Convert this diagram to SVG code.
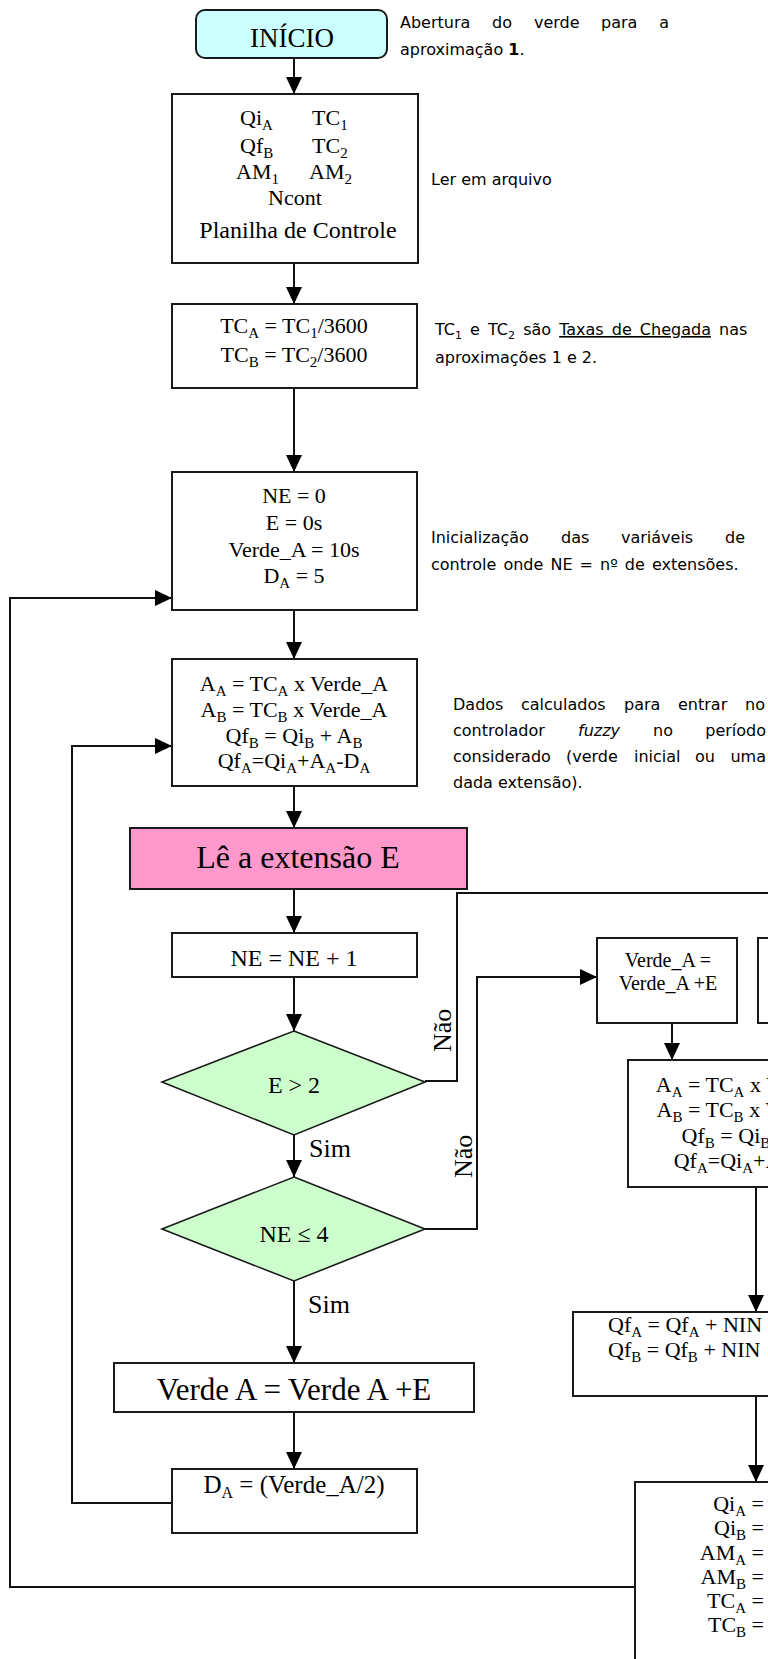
<svg xmlns="http://www.w3.org/2000/svg" width="768" height="1659" viewBox="0 0 768 1659">
  <style>
    .box { fill: #ffffff; stroke: #1a1a1a; stroke-width: 2; }
    .start { fill: #ccffff; stroke: #1a1a1a; stroke-width: 2; }
    .read { fill: #ff99cc; stroke: #1a1a1a; stroke-width: 2; }
    .dec { fill: #ccffcc; stroke: #1a1a1a; stroke-width: 1.6; }
    .t { font-family: "Liberation Serif", "Times New Roman", serif; font-size: 22px; fill: #000; text-anchor: middle; }
    .l { text-anchor: start; }
    .r { text-anchor: end; }
    .sb { font-size: 15px; }
    .note { font-family: "DejaVu Sans", "Noto Sans", sans-serif; font-size: 16px; fill: #000; }
    .note.r { text-anchor: end; }
    .conn { fill: none; stroke: #111; stroke-width: 2; }
    .arr { marker-end: url(#ah); }
  </style>
  <defs>
    <marker id="ah" markerWidth="17" markerHeight="16" refX="17" refY="8" orient="auto" markerUnits="userSpaceOnUse">
      <path d="M0,0 L17,8 L0,16 z" fill="#000"/>
    </marker>
  </defs>

  <rect width="768" height="1659" fill="#ffffff"/>

  <!-- connectors -->
  <g id="connectors">
    <path class="conn arr" d="M294,58 V94"/>
    <path class="conn arr" d="M294,263 V304"/>
    <path class="conn arr" d="M294,388 V472"/>
    <path class="conn arr" d="M294,610 V659"/>
    <path class="conn arr" d="M294,786 V828"/>
    <path class="conn arr" d="M294,889 V933"/>
    <path class="conn arr" d="M294,977 V1031"/>
    <path class="conn arr" d="M294,1135 V1177"/>
    <path class="conn arr" d="M294,1281 V1363"/>
    <path class="conn arr" d="M294,1412 V1469"/>
    <!-- back to the flow calculation -->
    <path class="conn arr" d="M172,1503 H72 V746 H172"/>
    <!-- new cycle back to the initial values -->
    <path class="conn arr" d="M635,1587 H10 V598 H172"/>
    <!-- E > 2 : Não -->
    <path class="conn" d="M425,1081 H457 V893 H770"/>
    <!-- NE <= 4 : Não -->
    <path class="conn arr" d="M425,1229 H477 V977 H597"/>
    <path class="conn arr" d="M672,1023 V1060"/>
    <path class="conn arr" d="M756,1187 V1312"/>
    <path class="conn arr" d="M756,1396 V1482"/>
    <text class="t l" transform="translate(451,1052) rotate(-90)" style="font-size:26px">Não</text>
    <text class="t l" transform="translate(472,1178) rotate(-90)" style="font-size:26px">Não</text>
    <text class="t l" x="309" y="1157" style="font-size:26px">Sim</text>
    <text class="t l" x="308" y="1313" style="font-size:26px">Sim</text>
  </g>

  <g id="inicio">
    <rect class="start" x="196" y="10" width="191" height="48" rx="9"/>
    <text class="t" x="292" y="47" style="font-size:27px">INÍCIO</text>
  </g>

  <g id="planilha">
    <rect class="box" x="172" y="94" width="246" height="169"/>
    <text class="t l" x="240" y="125">Qi<tspan class="sb" dy="5">A</tspan></text>
    <text class="t l" x="312" y="125">TC<tspan class="sb" dy="5">1</tspan></text>
    <text class="t l" x="240" y="153">Qf<tspan class="sb" dy="5">B</tspan></text>
    <text class="t l" x="312" y="153">TC<tspan class="sb" dy="5">2</tspan></text>
    <text class="t l" x="236" y="179">AM<tspan class="sb" dy="5">1</tspan></text>
    <text class="t l" x="309" y="179">AM<tspan class="sb" dy="5">2</tspan></text>
    <text class="t" x="295" y="205">Ncont</text>
    <text class="t" x="298" y="238" style="font-size:24px">Planilha de Controle</text>
  </g>

  <g id="taxas">
    <rect class="box" x="172" y="304" width="245" height="84"/>
    <text class="t" x="294" y="333">TC<tspan class="sb" dy="5">A</tspan><tspan dy="-5"> = TC</tspan><tspan class="sb" dy="5">1</tspan><tspan dy="-5">/3600</tspan></text>
    <text class="t" x="294" y="362">TC<tspan class="sb" dy="5">B</tspan><tspan dy="-5"> = TC</tspan><tspan class="sb" dy="5">2</tspan><tspan dy="-5">/3600</tspan></text>
  </g>

  <g id="inicializacao">
    <rect class="box" x="172" y="472" width="245" height="138"/>
    <text class="t" x="294" y="503">NE = 0</text>
    <text class="t" x="294" y="530">E = 0s</text>
    <text class="t" x="294" y="557">Verde_A = 10s</text>
    <text class="t" x="294" y="583">D<tspan class="sb" dy="5">A</tspan><tspan dy="-5"> = 5</tspan></text>
  </g>

  <g id="calculo">
    <rect class="box" x="172" y="659" width="245" height="127"/>
    <text class="t" x="294" y="691">A<tspan class="sb" dy="5">A</tspan><tspan dy="-5"> = TC</tspan><tspan class="sb" dy="5">A</tspan><tspan dy="-5"> x Verde_A</tspan></text>
    <text class="t" x="294" y="717">A<tspan class="sb" dy="5">B</tspan><tspan dy="-5"> = TC</tspan><tspan class="sb" dy="5">B</tspan><tspan dy="-5"> x Verde_A</tspan></text>
    <text class="t" x="294" y="743">Qf<tspan class="sb" dy="5">B</tspan><tspan dy="-5"> = Qi</tspan><tspan class="sb" dy="5">B</tspan><tspan dy="-5"> + A</tspan><tspan class="sb" dy="5">B</tspan></text>
    <text class="t" x="294" y="768">Qf<tspan class="sb" dy="5">A</tspan><tspan dy="-5">=Qi</tspan><tspan class="sb" dy="5">A</tspan><tspan dy="-5">+A</tspan><tspan class="sb" dy="5">A</tspan><tspan dy="-5">-D</tspan><tspan class="sb" dy="5">A</tspan></text>
  </g>

  <g id="le-extensao">
    <rect class="read" x="130" y="828" width="337" height="61"/>
    <text class="t" x="298" y="868" style="font-size:32px">Lê a extensão E</text>
  </g>

  <g id="contador">
    <rect class="box" x="172" y="933" width="245" height="44"/>
    <text class="t" x="294" y="966" style="font-size:24px">NE = NE + 1</text>
  </g>

  <g id="teste-e">
    <polygon class="dec" points="294,1031 425,1082 294,1135 162,1082"/>
    <text class="t" x="294" y="1093" style="font-size:24px">E &gt; 2</text>
  </g>

  <g id="teste-ne">
    <polygon class="dec" points="294,1177 425,1229 294,1281 162,1229"/>
    <text class="t" x="294" y="1242" style="font-size:24px">NE ≤ 4</text>
  </g>

  <g id="soma-verde">
    <rect class="box" x="114" y="1363" width="360" height="49"/>
    <text class="t" x="294" y="1400" style="font-size:31px">Verde A = Verde A +E</text>
  </g>

  <g id="descarga">
    <rect class="box" x="172" y="1469" width="245" height="64"/>
    <text class="t" x="294" y="1493" style="font-size:25px">D<tspan class="sb" dy="5" style="font-size:16px">A</tspan><tspan dy="-5"> = (Verde_A/2)</tspan></text>
  </g>

  <g id="verde-final">
    <rect class="box" x="597" y="938" width="140" height="85"/>
    <text class="t" x="668" y="967" style="font-size:20px">Verde_A =</text>
    <text class="t" x="668" y="990" style="font-size:20px">Verde_A +E</text>
  </g>

  <g id="caixa-lateral">
    <rect class="box" x="758" y="938" width="140" height="85"/>
  </g>

  <g id="calculo-final">
    <rect class="box" x="628" y="1060" width="245" height="127"/>
    <text class="t" x="750" y="1092">A<tspan class="sb" dy="5">A</tspan><tspan dy="-5"> = TC</tspan><tspan class="sb" dy="5">A</tspan><tspan dy="-5"> x Verde_A</tspan></text>
    <text class="t" x="750" y="1117">A<tspan class="sb" dy="5">B</tspan><tspan dy="-5"> = TC</tspan><tspan class="sb" dy="5">B</tspan><tspan dy="-5"> x Verde_A</tspan></text>
    <text class="t" x="750" y="1143">Qf<tspan class="sb" dy="5">B</tspan><tspan dy="-5"> = Qi</tspan><tspan class="sb" dy="5">B</tspan><tspan dy="-5"> + A</tspan><tspan class="sb" dy="5">B</tspan></text>
    <text class="t" x="750" y="1168">Qf<tspan class="sb" dy="5">A</tspan><tspan dy="-5">=Qi</tspan><tspan class="sb" dy="5">A</tspan><tspan dy="-5">+A</tspan><tspan class="sb" dy="5">A</tspan><tspan dy="-5">-D</tspan><tspan class="sb" dy="5">A</tspan></text>
  </g>

  <g id="fila-final">
    <rect class="box" x="573" y="1312" width="300" height="84"/>
    <text class="t l" x="608" y="1332">Qf<tspan class="sb" dy="5">A</tspan><tspan dy="-5"> = Qf</tspan><tspan class="sb" dy="5">A</tspan><tspan dy="-5"> + NIN</tspan></text>
    <text class="t l" x="608" y="1357">Qf<tspan class="sb" dy="5">B</tspan><tspan dy="-5"> = Qf</tspan><tspan class="sb" dy="5">B</tspan><tspan dy="-5"> + NIN</tspan></text>
  </g>

  <g id="atualizacao">
    <rect class="box" x="635" y="1482" width="300" height="250"/>
    <text class="t r" x="764" y="1511">Qi<tspan class="sb" dy="5">A</tspan><tspan dy="-5"> =</tspan></text>
    <text class="t r" x="764" y="1535">Qi<tspan class="sb" dy="5">B</tspan><tspan dy="-5"> =</tspan></text>
    <text class="t r" x="764" y="1560">AM<tspan class="sb" dy="5">A</tspan><tspan dy="-5"> =</tspan></text>
    <text class="t r" x="764" y="1584">AM<tspan class="sb" dy="5">B</tspan><tspan dy="-5"> =</tspan></text>
    <text class="t r" x="764" y="1608">TC<tspan class="sb" dy="5">A</tspan><tspan dy="-5"> =</tspan></text>
    <text class="t r" x="764" y="1632">TC<tspan class="sb" dy="5">B</tspan><tspan dy="-5"> =</tspan></text>
  </g>

  <!-- side notes; justified lines are set word by word -->
  <g id="notas">
    <g>
      <text class="note" x="400" y="28">Abertura</text>
      <text class="note" x="492" y="28">do</text>
      <text class="note" x="534" y="28">verde</text>
      <text class="note" x="601" y="28">para</text>
      <text class="note r" x="669" y="28">a</text>
    </g>
    <text class="note" x="400" y="55">aproximação <tspan font-weight="bold">1</tspan>.</text>

    <text class="note" x="431" y="185">Ler em arquivo</text>

    <text class="note" x="435" y="335" word-spacing="3">TC<tspan dy="4" style="font-size:11px">1</tspan><tspan dy="-4"> e TC</tspan><tspan dy="4" style="font-size:11px">2</tspan><tspan dy="-4"> são </tspan><tspan text-decoration="underline">Taxas de Chegada</tspan> nas</text>
    <text class="note" x="435" y="363">aproximações 1 e 2.</text>

    <g>
      <text class="note" x="431" y="543">Inicialização</text>
      <text class="note" x="561" y="543">das</text>
      <text class="note" x="621" y="543">variáveis</text>
      <text class="note r" x="745" y="543">de</text>
    </g>
    <text class="note" x="431" y="570" word-spacing="2">controle onde NE = nº de extensões.</text>

    <g>
      <text class="note" x="453" y="710">Dados</text>
      <text class="note" x="521" y="710">calculados</text>
      <text class="note" x="624" y="710">para</text>
      <text class="note" x="678" y="710">entrar</text>
      <text class="note r" x="765" y="710">no</text>
    </g>
    <g>
      <text class="note" x="453" y="736">controlador</text>
      <text class="note" x="578" y="736" font-style="italic">fuzzy</text>
      <text class="note" x="653" y="736">no</text>
      <text class="note r" x="766" y="736">período</text>
    </g>
    <g>
      <text class="note" x="453" y="762">considerado</text>
      <text class="note" x="566" y="762">(verde</text>
      <text class="note" x="634" y="762">inicial</text>
      <text class="note" x="695" y="762">ou</text>
      <text class="note r" x="766" y="762">uma</text>
    </g>
    <text class="note" x="453" y="788">dada extensão).</text>
  </g>
</svg>
